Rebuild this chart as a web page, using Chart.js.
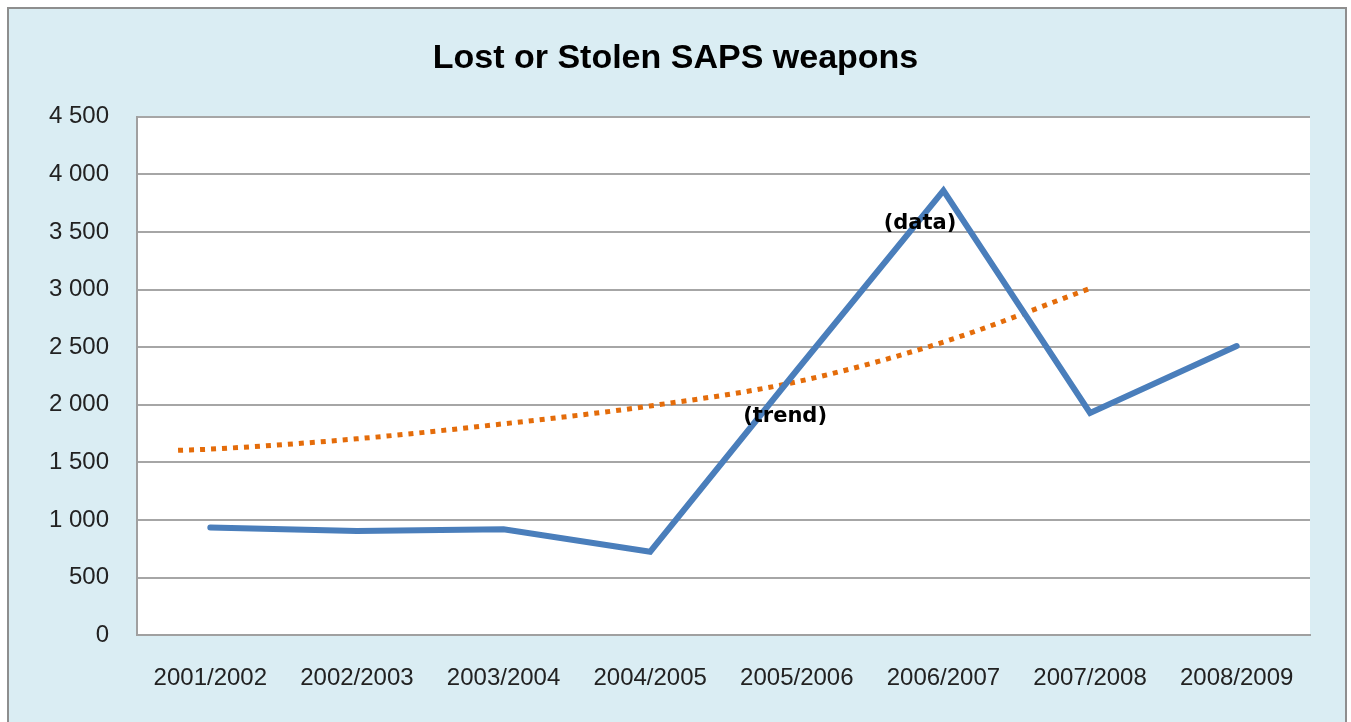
<!DOCTYPE html>
<html>
<head>
<meta charset="utf-8">
<script src="https://cdn.jsdelivr.net/npm/chart.js@4"></script>
<style>
  html, body { margin: 0; padding: 0; background: #ffffff; }
  #frame {
    position: absolute; left: 7px; top: 7px; width: 1336px; height: 730px;
    border: 2px solid #8e8e8e; background: #daedf3;
  }
  #wrap { position: absolute; left: 0; top: 0; width: 1351px; height: 722px; }
</style>
</head>
<body>
<div id="frame"></div>
<div id="wrap"><canvas id="weaponsChart"></canvas></div>
<script>
// Categories along the x axis
const years = ['2001/2002', '2002/2003', '2003/2004', '2004/2005',
  '2005/2006', '2006/2007', '2007/2008', '2008/2009'];
// Lost or stolen weapons per year
const weapons = [935, 905, 920, 725, 2300, 3860, 1930, 2510];
// Trendline as drawn in the picture: positions (category index) and values
const trendPos = [-0.22, 0, 1, 2, 3, 4, 5, 6];
const trendVals = [1605, 1615, 1705, 1835, 1990, 2200, 2545, 3010];
// Y ticks
const yMax = 4500;
const yStep = 500;

const baseFont = '"Liberation Sans", Arial, sans-serif';

function fmtThousands(v) {
  return String(v).replace(/\B(?=(\d{3})+(?!\d))/g, ' ');
}

// Draws the "(data)" / "(trend)" text tags using the chart scales
const tagPlugin = {
  id: 'tags',
  afterDatasetsDraw(chart) {
    const { ctx, scales } = chart;
    const tags = [
      { text: '(data)', x: 4.84, y: 3570 },
      { text: '(trend)', x: 3.92, y: 1895 },
    ];
    ctx.save();
    ctx.font = 'bold 21px "DejaVu Sans", Verdana, sans-serif';
    ctx.fillStyle = '#000';
    ctx.textAlign = 'center';
    ctx.textBaseline = 'middle';
    tags.forEach(function (t) {
      ctx.fillText(t.text, scales.x.getPixelForValue(t.x), scales.y.getPixelForValue(t.y));
    });
    ctx.restore();
  },
};

// White plot area behind the lines
const plotBg = {
  id: 'plotBg',
  beforeDraw(chart) {
    const a = chart.chartArea;
    const ctx = chart.ctx;
    ctx.save();
    ctx.fillStyle = '#ffffff';
    ctx.fillRect(a.left, a.top, a.right - a.left, a.bottom - a.top);
    ctx.restore();
  },
};

const ctx = document.getElementById('weaponsChart').getContext('2d');
new Chart(ctx, {
  type: 'line',
  data: {
    datasets: [
      {
        label: 'data',
        data: weapons.map(function (v, i) { return { x: i, y: v }; }),
        borderColor: '#4a7ebb',
        borderWidth: 6,
        pointRadius: 0,
        tension: 0,
        borderCapStyle: 'round',
        borderJoinStyle: 'miter',
      },
      {
        label: 'trend',
        data: trendPos.map(function (p, i) { return { x: p, y: trendVals[i] }; }),
        borderColor: '#e46c0a',
        borderWidth: 5,
        borderDash: [5, 6],
        pointRadius: 0,
        cubicInterpolationMode: 'monotone',
      },
    ],
  },
  options: {
    responsive: true,
    maintainAspectRatio: false,
    animation: false,
    layout: { padding: { left: 41, right: 41, top: 0, bottom: 0 } },
    plugins: {
      legend: { display: false },
      tooltip: { enabled: false },
      title: {
        display: true,
        text: 'Lost or Stolen SAPS weapons',
        color: '#000000',
        font: { family: baseFont, size: 34, weight: 'bold' },
        padding: { top: 38, bottom: 38 },
      },
    },
    scales: {
      x: {
        type: 'linear',
        min: -0.5,
        max: 7.5,
        afterBuildTicks: function (axis) {
          axis.ticks = years.map(function (y, i) { return { value: i }; });
        },
        ticks: {
          color: '#222',
          font: { family: baseFont, size: 24 },
          padding: 29,
          maxRotation: 0,
          autoSkip: false,
          callback: function (v) { return years[v]; },
        },
        grid: { display: false, drawTicks: false },
        border: { display: true, color: '#a0a0a0', width: 2 },
      },
      y: {
        min: 0,
        max: yMax,
        afterFit: function (axis) { axis.width = 96; },
        ticks: {
          stepSize: yStep,
          color: '#222',
          font: { family: baseFont, size: 24 },
          padding: 28,
          callback: function (v) { return fmtThousands(v); },
        },
        grid: { color: '#a6a6a6', lineWidth: 2, drawTicks: false },
        border: { display: true, color: '#a0a0a0', width: 2 },
      },
    },
  },
  plugins: [plotBg, tagPlugin],
});
</script>
</body>
</html>
